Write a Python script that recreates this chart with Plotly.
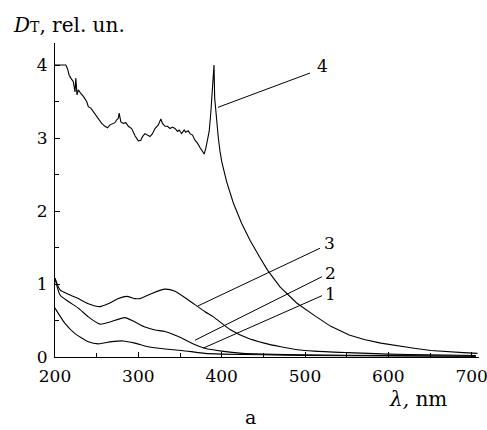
import plotly.graph_objects as go

# Wavelength grids (nm) and optical density values for each sample
wl1 = [200, 212, 224, 240, 252, 268, 282, 296, 312, 332, 352, 380, 400, 450, 500, 600, 705]
d1 = [0.67, 0.46, 0.32, 0.21, 0.18, 0.21, 0.22, 0.19, 0.14, 0.11, 0.09, 0.05, 0.04, 0.03, 0.02, 0.015, 0.01]

wl2 = [200, 206, 216, 228, 240, 254, 266, 284, 296, 308, 320, 332, 348, 364, 380, 400, 425, 450, 500, 600, 705]
d2 = [1.08, 0.85, 0.76, 0.67, 0.55, 0.45, 0.48, 0.54, 0.48, 0.41, 0.37, 0.35, 0.28, 0.19, 0.12, 0.08, 0.05, 0.04, 0.03, 0.02, 0.01]

wl3 = [200, 206, 216, 228, 240, 254, 264, 276, 286, 296, 302, 316, 332, 344, 360, 380, 390, 411, 431,
       451, 471, 491, 511, 551, 600, 650, 705]
d3 = [1.08, 0.92, 0.86, 0.80, 0.73, 0.69, 0.73, 0.80, 0.83, 0.80, 0.80, 0.87, 0.93, 0.90, 0.78, 0.62, 0.55, 0.37, 0.26,
      0.19, 0.14, 0.10, 0.08, 0.06, 0.04, 0.03, 0.02]

wl4 = [200, 213, 215, 217, 219, 222, 224, 225, 226.4, 228, 231, 234, 238, 240, 243, 246, 248, 252, 256, 260,
       263, 266, 269, 272, 274, 276, 277, 279, 282, 285, 288, 292, 296, 300, 303, 305, 308, 311, 314, 317,
       320, 324, 327, 329, 332, 335, 338, 341, 344, 347, 349, 352, 355, 357, 360, 362, 365, 368, 371, 374,
       377, 379, 381, 383, 385, 387, 388.5, 389.5, 390.8, 391.6, 392.5, 394, 396, 398, 400, 406, 414, 424,
       434, 445, 455, 470, 490, 511, 531, 553, 571, 591, 611, 631, 651, 671, 690, 707]
d4 = [4.0, 4.0, 3.95, 3.86, 3.82, 3.77, 3.63, 3.82, 3.59, 3.66, 3.61, 3.57, 3.50, 3.43, 3.41, 3.36, 3.32, 3.25, 3.20, 3.16,
      3.14, 3.18, 3.19, 3.21, 3.25, 3.27, 3.34, 3.22, 3.20, 3.21, 3.16, 3.13, 3.03, 2.96, 2.97, 3.02, 3.06, 3.04, 3.02, 3.06,
      3.13, 3.18, 3.26, 3.20, 3.16, 3.16, 3.13, 3.15, 3.13, 3.09, 3.11, 3.06, 3.11, 3.08, 3.10, 3.06, 3.04, 2.97, 2.93, 2.87,
      2.82, 2.78, 2.86, 2.99, 3.09, 3.35, 3.60, 3.68, 4.0, 3.55, 3.42, 3.28, 3.0, 2.82, 2.68, 2.40, 2.11, 1.83,
      1.60, 1.38, 1.19, 0.96, 0.74, 0.57, 0.42, 0.30, 0.24, 0.19, 0.15, 0.12, 0.09, 0.07, 0.06, 0.05]

x_ticks = [200, 300, 400, 500, 600, 700]
y_ticks = [0, 1, 2, 3, 4]

# Leader lines: (curve label, start point on curve, end point at label, label position)
leaders = [
    ("4", (395.6, 3.42), (506, 3.89), (521, 3.99)),
    ("3", (371.6, 0.70), (518, 1.49), (529, 1.56)),
    ("2", (368, 0.23), (520.4, 1.10), (530, 1.15)),
    ("1", (377.6, 0.12), (520.4, 0.84), (531, 0.86)),
]

FONT = "DejaVu Serif"
fig = go.Figure()

for wl, d, shape in [(wl1, d1, "spline"), (wl2, d2, "spline"), (wl3, d3, "spline"), (wl4, d4, "linear")]:
    fig.add_trace(go.Scatter(
        x=wl, y=d, mode="lines",
        line=dict(color="black", width=1.1, shape=shape, smoothing=0.6),
        showlegend=False, hoverinfo="skip",
    ))

for label, (x0, y0), (x1, y1), (lx, ly) in leaders:
    fig.add_shape(type="line", x0=x0, y0=y0, x1=x1, y1=y1, xref="x", yref="y",
                  line=dict(color="black", width=1))
    fig.add_annotation(x=lx, y=ly, xref="x", yref="y", text=label, showarrow=False,
                       font=dict(family=FONT, size=17, color="black"))

L, T, W, H = 55, 43, 424, 314


def px(x, y):
    return (x - L) / W, (T + H - y) / H


tx, ty = px(11, 25)
fig.add_annotation(x=tx, y=ty, xref="paper", yref="paper", xanchor="left", yanchor="middle",
                   text="<i>D</i><span style='font-size:14px'>T</span>, rel. un.", showarrow=False,
                   font=dict(family=FONT, size=20, color="black"))
lx, ly = px(418, 399)
fig.add_annotation(x=lx, y=ly, xref="paper", yref="paper", xanchor="center", yanchor="middle",
                   text="<i>λ,</i> nm", showarrow=False,
                   font=dict(family=FONT, size=20, color="black"))
ax_, ay_ = px(250, 417)
fig.add_annotation(x=ax_, y=ay_, xref="paper", yref="paper", xanchor="center", yanchor="middle",
                   text="a", showarrow=False,
                   font=dict(family=FONT, size=19, color="black"))

fig.update_layout(
    width=487, height=430,
    margin=dict(l=L, r=487 - L - W, t=T, b=430 - T - H, autoexpand=False),
    paper_bgcolor="white", plot_bgcolor="white",
    font=dict(family=FONT, size=17, color="black"),
    xaxis=dict(
        range=[200, 200 + W * 1.2], tickvals=x_ticks, ticktext=[str(v) for v in x_ticks],
        ticks="inside", ticklen=5, tickwidth=1, tickcolor="black",
        minor=dict(dtick=50, ticks="inside", ticklen=4, tickwidth=1, tickcolor="black"),
        showline=True, linecolor="black", linewidth=1.2, showgrid=False, zeroline=False,
        ticklabelstandoff=3, ticklabeloverflow="allow", automargin=False,
    ),
    yaxis=dict(
        range=[0, H / 73.0], tickvals=y_ticks, ticktext=[str(v) for v in y_ticks],
        ticks="inside", ticklen=5, tickwidth=1, tickcolor="black",
        minor=dict(dtick=0.5, ticks="inside", ticklen=4, tickwidth=1, tickcolor="black"),
        showline=True, linecolor="black", linewidth=1.2, showgrid=False, zeroline=False,
        ticklabelstandoff=3, ticklabeloverflow="allow", automargin=False,
    ),
)

fig.write_html("out.html")
